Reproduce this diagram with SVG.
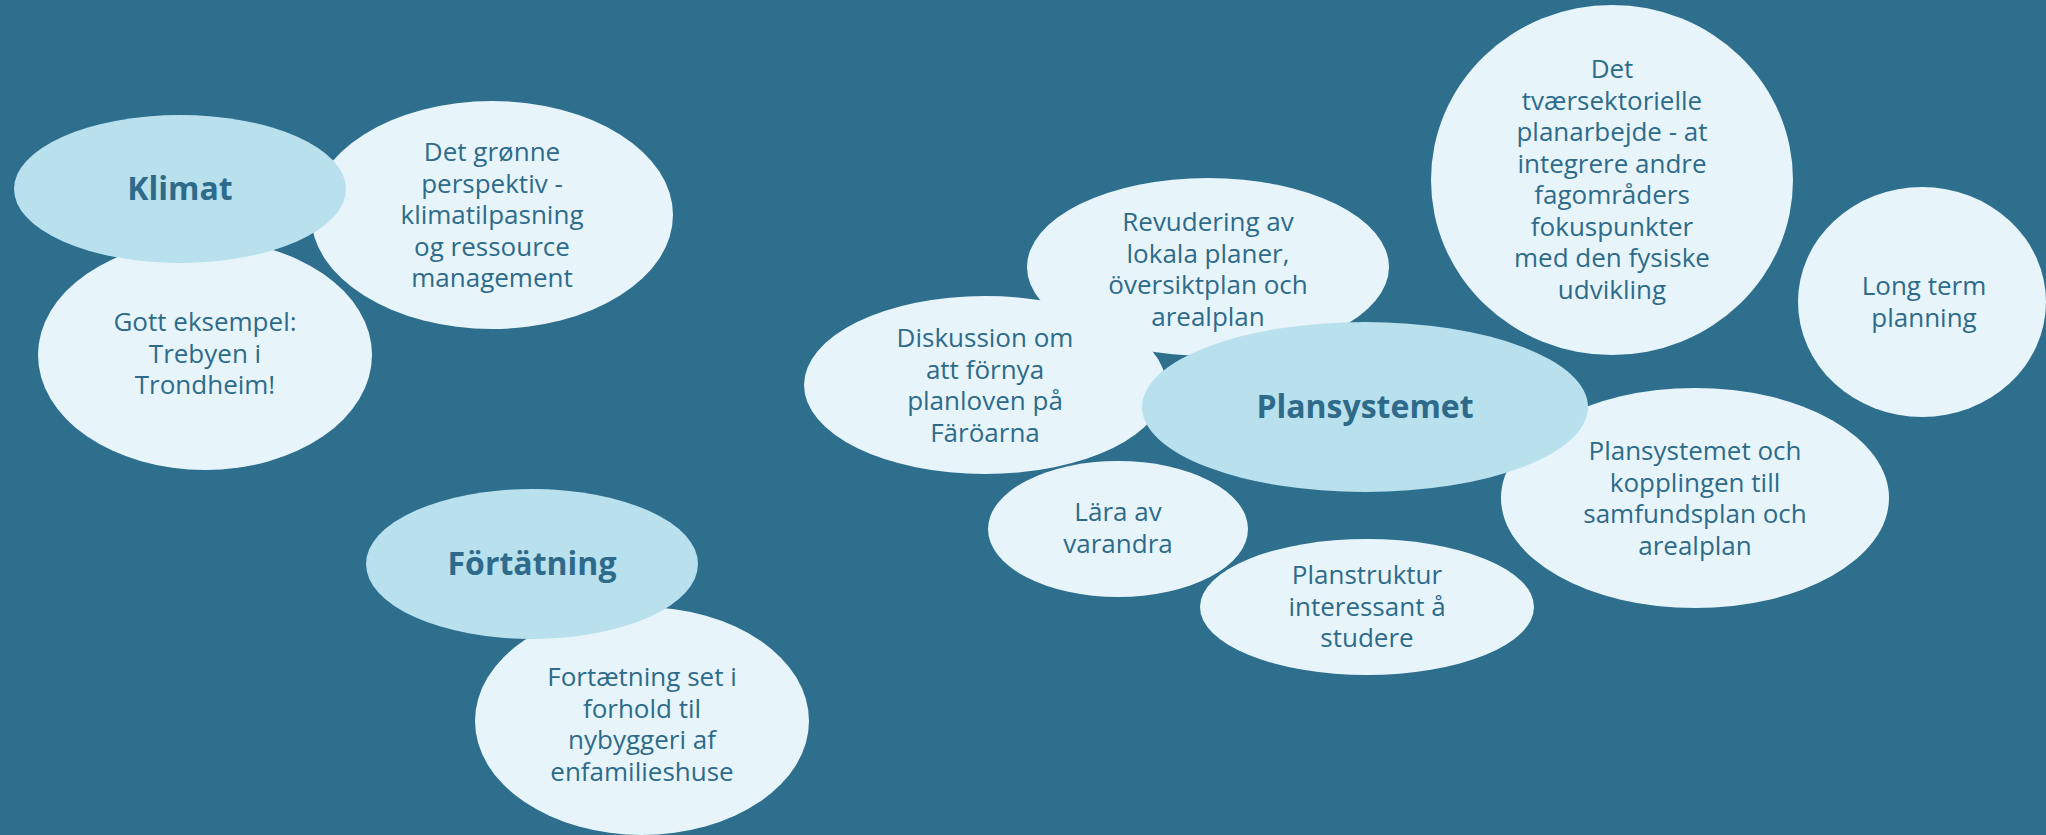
<svg xmlns="http://www.w3.org/2000/svg" width="2046" height="835" viewBox="0 0 2046 835">
<style>
.bg{fill:#2e6f8e}
.leaf{fill:#e7f5fa}
.hub{fill:#b8e0ed}
text{font-family:"Open Sans","Noto Sans","DejaVu Sans",sans-serif;fill:#2e6b8a;text-anchor:middle}
.t{font-size:26px}
.b{font-size:32px;font-weight:bold}
</style>
<rect class="bg" x="0" y="0" width="2046" height="835"/>
<g id="connectors"></g>
<g id="n-det-gronne"><ellipse class="leaf" cx="492" cy="215" rx="181" ry="114"/>
<text class="t" x="492" y="161">Det grønne</text><text class="t" x="492" y="193">perspektiv -</text><text class="t" x="492" y="224">klimatilpasning</text><text class="t" x="492" y="256">og ressource</text><text class="t" x="492" y="287">management</text></g>
<g id="n-gott"><ellipse class="leaf" cx="205" cy="355" rx="167" ry="115"/>
<text class="t" x="205" y="331">Gott eksempel:</text><text class="t" x="205" y="363">Trebyen i</text><text class="t" x="205" y="394">Trondheim!</text></g>
<g id="n-klimat"><ellipse class="hub" cx="180" cy="189" rx="166" ry="74"/>
<text class="b" x="180" y="200">Klimat</text></g>
<g id="n-fortaetning"><ellipse class="leaf" cx="642" cy="721" rx="167" ry="114"/>
<text class="t" x="642" y="686">Fortætning set i</text><text class="t" x="642" y="718">forhold til</text><text class="t" x="642" y="749">nybyggeri af</text><text class="t" x="642" y="781">enfamilieshuse</text></g>
<g id="n-fortatning"><ellipse class="hub" cx="532" cy="564" rx="166" ry="75"/>
<text class="b" x="532" y="575">Förtätning</text></g>
<g id="n-revudering"><ellipse class="leaf" cx="1208" cy="267" rx="181" ry="89"/>
<text class="t" x="1208" y="231">Revudering av</text><text class="t" x="1208" y="263">lokala planer,</text><text class="t" x="1208" y="294">översiktplan och</text><text class="t" x="1208" y="326">arealplan</text></g>
<g id="n-diskussion"><ellipse class="leaf" cx="985" cy="385" rx="181" ry="89"/>
<text class="t" x="985" y="347">Diskussion om</text><text class="t" x="985" y="379">att förnya</text><text class="t" x="985" y="410">planloven på</text><text class="t" x="985" y="442">Färöarna</text></g>
<g id="n-lara"><ellipse class="leaf" cx="1118" cy="529" rx="130" ry="68"/>
<text class="t" x="1118" y="521">Lära av</text><text class="t" x="1118" y="553">varandra</text></g>
<g id="n-planstruktur"><ellipse class="leaf" cx="1367" cy="607" rx="167" ry="68"/>
<text class="t" x="1367" y="584">Planstruktur</text><text class="t" x="1367" y="616">interessant å</text><text class="t" x="1367" y="647">studere</text></g>
<g id="n-tvaer"><ellipse class="leaf" cx="1612" cy="180" rx="181" ry="175"/>
<text class="t" x="1612" y="78">Det</text><text class="t" x="1612" y="110">tværsektorielle</text><text class="t" x="1612" y="141">planarbejde - at</text><text class="t" x="1612" y="173">integrere andre</text><text class="t" x="1612" y="204">fagområders</text><text class="t" x="1612" y="236">fokuspunkter</text><text class="t" x="1612" y="267">med den fysiske</text><text class="t" x="1612" y="299">udvikling</text></g>
<g id="n-longterm"><ellipse class="leaf" cx="1922" cy="302" rx="124" ry="115"/>
<text class="t" x="1924" y="295">Long term</text><text class="t" x="1924" y="327">planning</text></g>
<g id="n-plansystemet-och"><ellipse class="leaf" cx="1695" cy="498" rx="194" ry="110"/>
<text class="t" x="1695" y="460">Plansystemet och</text><text class="t" x="1695" y="492">kopplingen till</text><text class="t" x="1695" y="523">samfundsplan och</text><text class="t" x="1695" y="555">arealplan</text></g>
<g id="n-plansystemet"><ellipse class="hub" cx="1365" cy="407" rx="223" ry="85"/>
<text class="b" x="1365" y="418">Plansystemet</text></g>
</svg>
